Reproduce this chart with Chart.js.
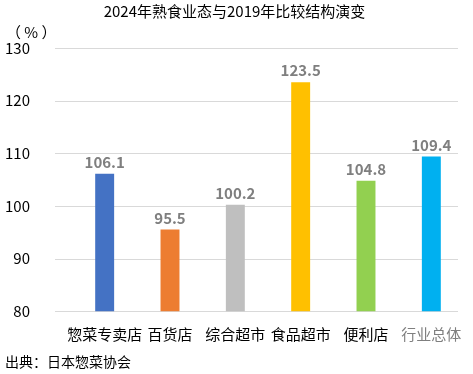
<!DOCTYPE html>
<html>
<head>
<meta charset="utf-8">
<script src="https://cdn.jsdelivr.net/npm/chart.js@4"></script>
<style>
  html, body { margin: 0; padding: 0; background: #fff; }
  #wrap { width: 473px; height: 374px; }
</style>
</head>
<body>
<div id="wrap"><canvas id="myChart" width="473" height="374"></canvas></div>
<script>
// datos del grafico
const categorias = ['惣菜专卖店', '百货店', '综合超市', '食品超市', '便利店', '行业总体'];
const valores = [106.1, 95.5, 100.2, 123.5, 104.8, 109.4];
const colores = ['#4472C4', '#ED7D31', '#BFBFBF', '#FFC000', '#92D050', '#00B0F0'];
const titulo = '2024年熟食业态与2019年比较结构演变';
const fuente = '出典：日本惣菜协会';
const unidad = '（ % ）';

const fuenteTexto = '"Noto Sans CJK SC", "Noto Sans", sans-serif';

// lineas de la cuadricula (un poco mas anchas a la izquierda que el area de barras)
const cuadricula = {
  id: 'cuadricula',
  beforeDatasetsDraw(chart) {
    const ctx = chart.ctx;
    const y = chart.scales.y;
    ctx.save();
    ctx.strokeStyle = '#D9D9D9';
    ctx.lineWidth = 1;
    y.ticks.forEach(t => {
      const py = Math.round(y.getPixelForValue(t.value)) + 0.5;
      ctx.beginPath();
      ctx.moveTo(55, py);
      ctx.lineTo(chart.chartArea.right - 6, py);
      ctx.stroke();
    });
    ctx.restore();
  }
};

// etiquetas encima de cada barra + la unidad arriba a la izquierda
const etiquetas = {
  id: 'etiquetas',
  afterDatasetsDraw(chart) {
    const ctx = chart.ctx;
    const meta = chart.getDatasetMeta(0);
    ctx.save();
    ctx.font = 'bold 15px ' + fuenteTexto;
    ctx.fillStyle = '#7F7F7F';
    ctx.textAlign = 'center';
    ctx.textBaseline = 'bottom';
    meta.data.forEach((bar, i) => {
      ctx.fillText(valores[i].toFixed(1), bar.x, bar.y - 4);
    });
    ctx.font = '15px ' + fuenteTexto;
    ctx.fillStyle = '#000';
    ctx.textAlign = 'left';
    ctx.textBaseline = 'middle';
    ctx.fillText(unidad, 6, 32);
    ctx.restore();
  }
};

new Chart(document.getElementById('myChart'), {
  type: 'bar',
  data: {
    labels: categorias,
    datasets: [{
      data: valores,
      backgroundColor: colores,
      borderWidth: 0,
      categoryPercentage: 1,
      barPercentage: 0.29
    }]
  },
  options: {
    responsive: false,
    animation: false,
    layout: { padding: { left: 5, right: 9, top: 0, bottom: 4 } },
    plugins: {
      legend: { display: false },
      tooltip: { enabled: false },
      title: {
        display: true,
        text: titulo,
        align: 'center',
        color: '#000',
        font: { family: fuenteTexto, size: 15, weight: 'normal' },
        padding: { top: 2, bottom: 28 }
      },
      subtitle: {
        display: true,
        text: fuente,
        position: 'bottom',
        align: 'start',
        color: '#000',
        font: { family: fuenteTexto, size: 14 },
        padding: { top: 4, bottom: 0 }
      }
    },
    scales: {
      x: {
        grid: { display: false },
        border: { display: false },
        ticks: {
          color: ctx => ctx.index === 5 ? '#7F7F7F' : '#000',
          font: { family: fuenteTexto, size: 15 },
          padding: 6,
          maxRotation: 0,
          autoSkip: false
        }
      },
      y: {
        min: 80,
        max: 130,
        afterFit: s => { s.width = 67; },
        grid: { display: false },
        border: { display: false },
        ticks: {
          stepSize: 10,
          color: '#000',
          font: { family: fuenteTexto, size: 15 },
          padding: 34
        }
      }
    }
  },
  plugins: [cuadricula, etiquetas]
});
</script>
</body>
</html>
